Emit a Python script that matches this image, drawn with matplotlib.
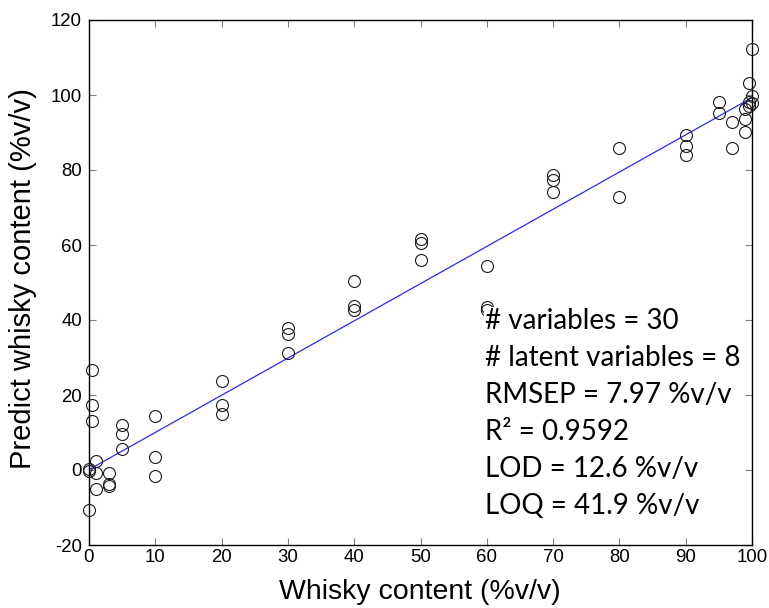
import matplotlib.pyplot as plt
import numpy as np

plt.rcParams.update({
    'font.family': ['Liberation Sans', 'DejaVu Sans'],
    'axes.unicode_minus': False,
})

# Reference (true) whisky content and the model prediction, grouped by level
actual = [0, 0, 0,
          0.5, 0.5, 0.5,
          1, 1, 1,
          3, 3, 3,
          5, 5, 5,
          10, 10, 10,
          20, 20, 20,
          30, 30, 30,
          40, 40, 40,
          50, 50, 50,
          60, 60, 60,
          70, 70, 70,
          80, 80,
          90, 90, 90,
          95, 95,
          97, 97,
          99, 99, 99,
          99.5, 99.5, 99.5,
          100, 100, 100]
predicted = [0.3, -0.3, -10.7,
             26.7, 17.3, 13.1,
             2.5, -0.9, -5.1,
             -0.9, -3.8, -4.3,
             12.0, 9.5, 5.5,
             14.4, 3.4, -1.5,
             23.8, 17.3, 14.9,
             37.8, 36.2, 31.1,
             50.4, 43.7, 42.7,
             61.5, 60.6, 56.0,
             54.4, 43.6, 42.7,
             78.7, 77.3, 74.2,
             86.0, 72.7,
             89.3, 86.5, 84.0,
             98.2, 95.1,
             92.7, 85.8,
             93.5, 90.2, 96.3,
             103.1, 98.2, 97.1,
             112.3, 99.7, 98.0]

# fitted regression line (predicted vs actual)
fit_intercept = 0.1
fit_slope = 0.992

stats_lines = ['# variables = 30',
               '# latent variables = 8',
               'RMSEP = 7.97 %v/v',
               'R\u00b2 = 0.9592',
               'LOD = 12.6 %v/v',
               'LOQ = 41.9 %v/v']

fig = plt.figure(figsize=(7.69, 6.08), dpi=100)
ax = fig.add_axes([89 / 769, 63 / 608, 663 / 769, 525 / 608])

xl = np.array([0, 100])
ax.plot(xl, fit_intercept + fit_slope * xl, color='#2a2aff', lw=0.9, zorder=2)
ax.plot(actual, predicted, 'o', ms=8.6, mfc='none', mec='#1a1a1a', mew=0.8,
        clip_on=False, zorder=3)

ax.set_xlim(0, 100)
ax.set_ylim(-20, 120)
ax.set_xticks(np.arange(0, 101, 10))
ax.set_yticks(np.arange(-20, 121, 20))
ax.tick_params(direction='in', length=4.7, width=0.8, color='#808080',
               top=True, right=True, labelsize=13.4)
ax.tick_params(axis='x', pad=3.2)
ax.tick_params(axis='y', pad=5)
for s in ax.spines.values():
    s.set_linewidth(1.0)
    s.set_color('black')

fig.text(420 / 769, (608 - 599) / 608, 'Whisky content (%v/v)',
         ha='center', va='baseline', fontsize=20.5)
fig.text(23 / 769, (608 - 278.5) / 608, 'Predict whisky content (%v/v)',
         rotation=90, ha='center', va='center', fontsize=21)

for i, line in enumerate(stats_lines):
    ax.text(0.597, (545 - 329 - 37 * i) / 525, line, transform=ax.transAxes,
            ha='left', va='baseline', fontsize=20, family=['Lato', 'DejaVu Sans'],
            bbox=dict(facecolor='white', edgecolor='none', pad=0.5), zorder=4)

fig.savefig('out.png', dpi=100)
